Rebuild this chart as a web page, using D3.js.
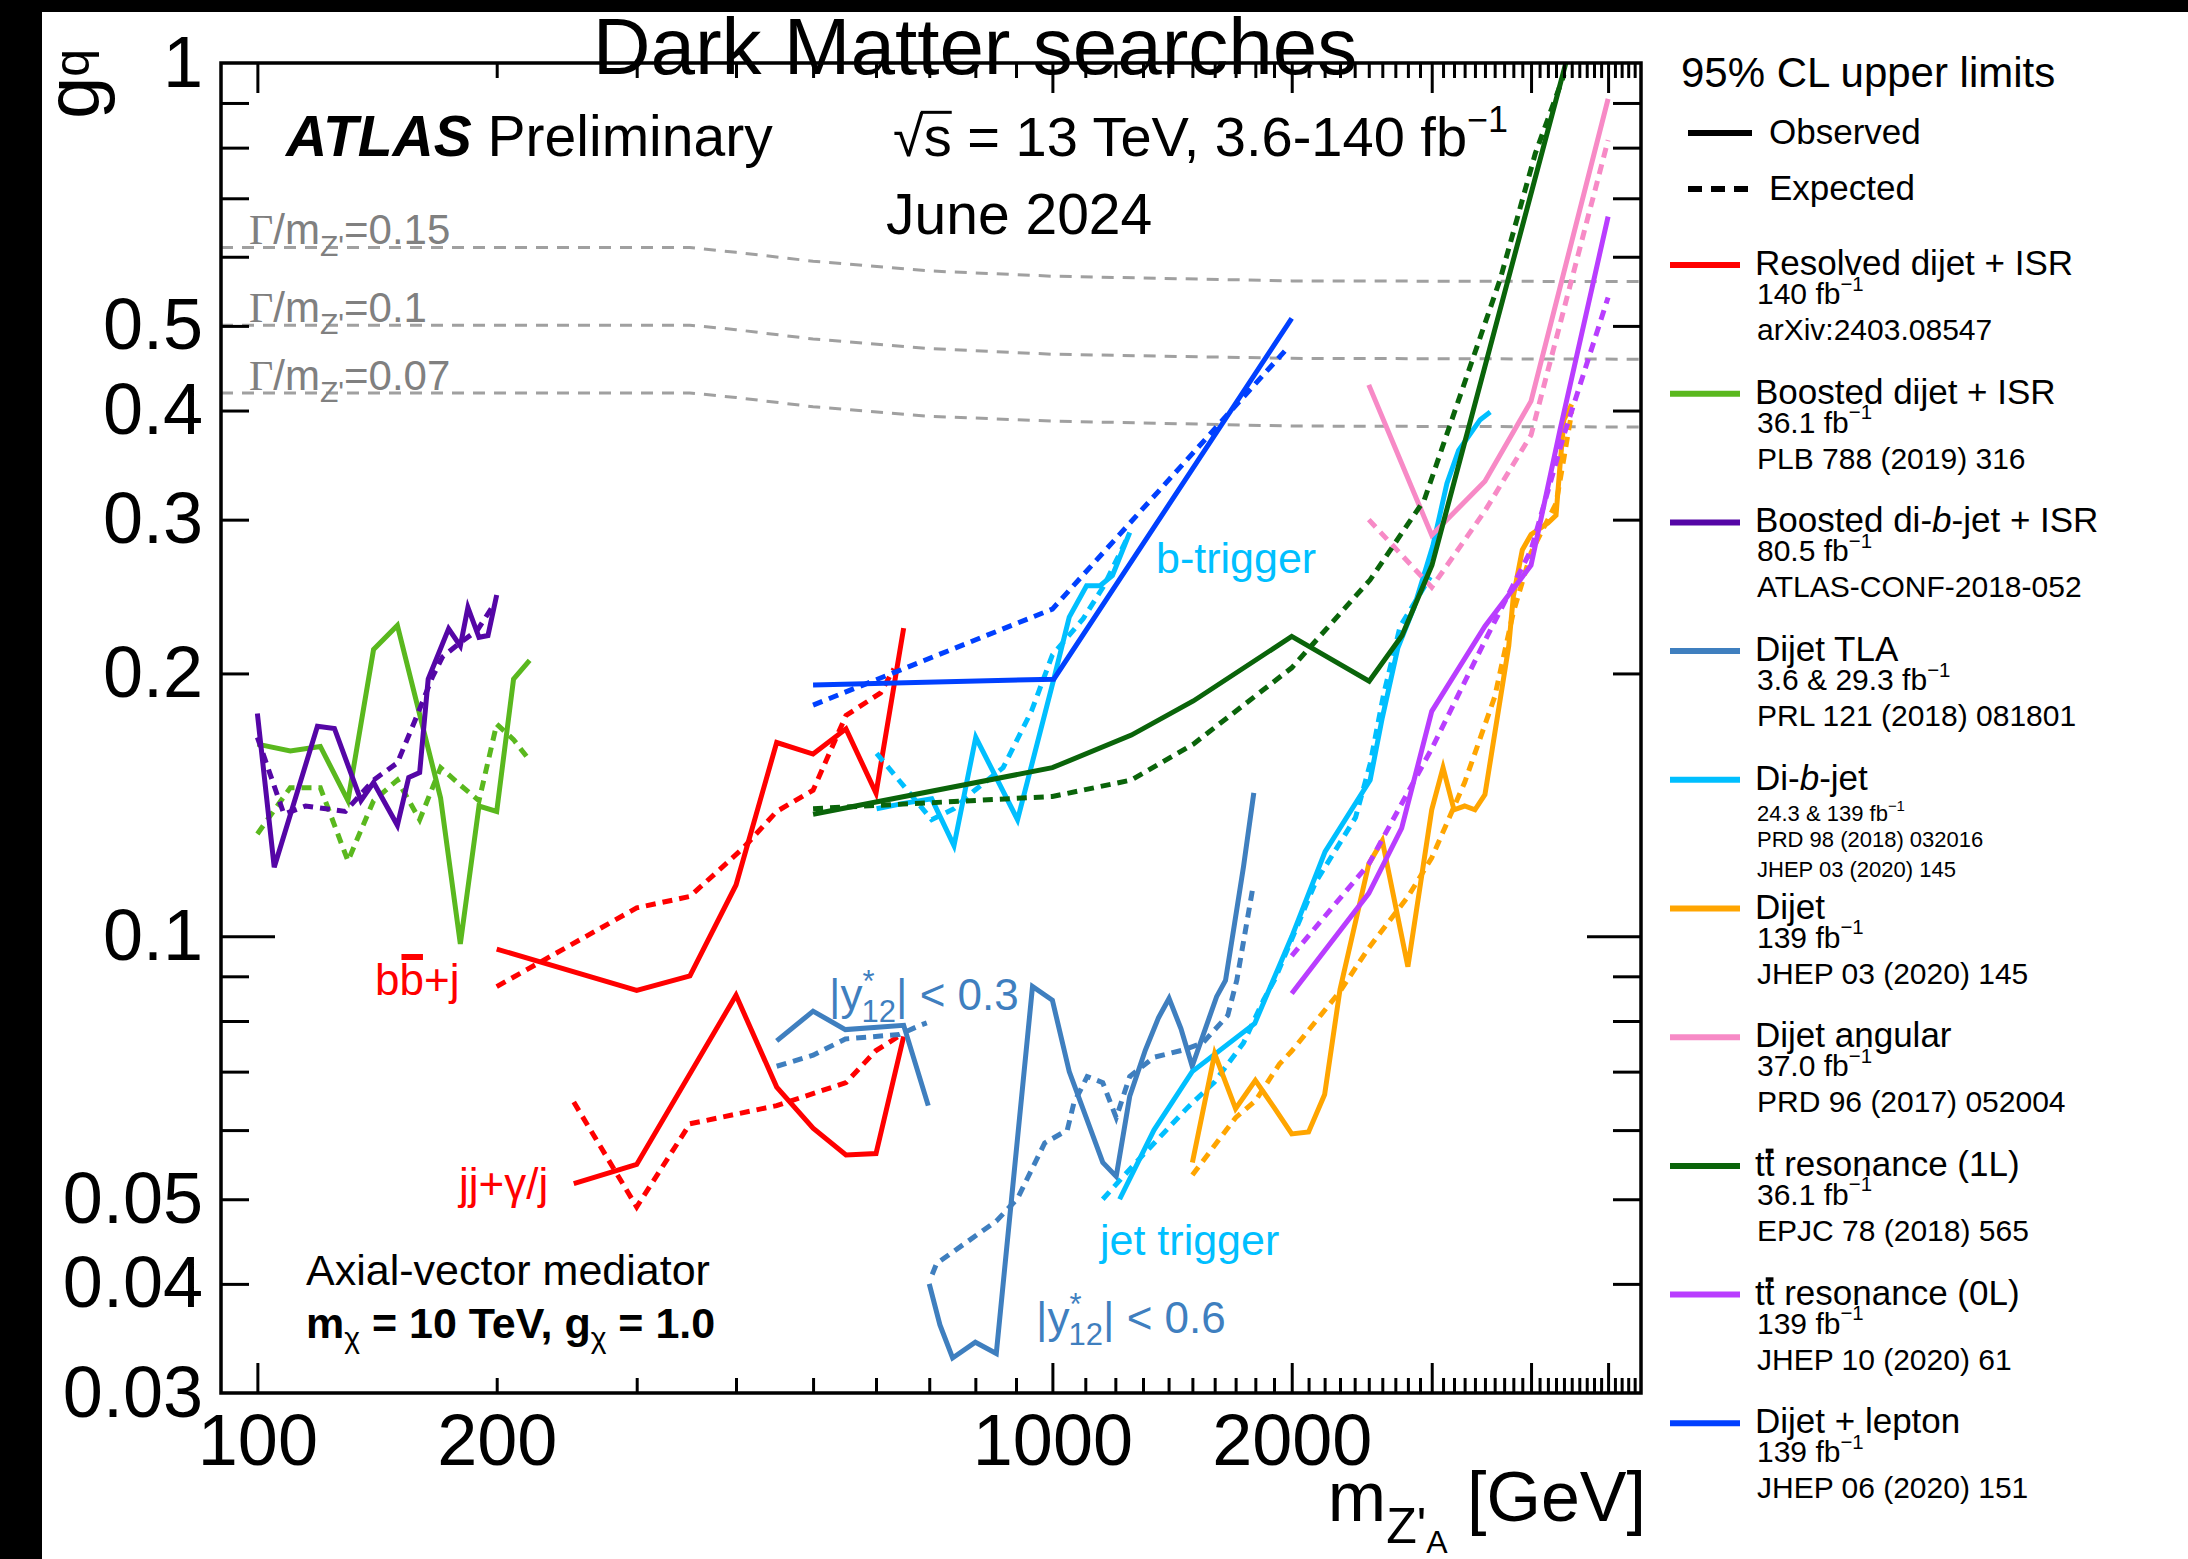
<!DOCTYPE html>
<html>
<head>
<meta charset="utf-8">
<title>Dark Matter searches</title>
<script src="https://cdn.jsdelivr.net/npm/d3@7/dist/d3.min.js"></script>
<style>
  html, body { margin: 0; padding: 0; background: #fff; }
  svg { display: block; }
  text { font-family: "Liberation Sans", Arial, Helvetica, sans-serif; }
</style>
</head>
<body>
<svg id="chart" width="2188" height="1559"></svg>
<script>
// ---------- 95% CL upper limits on g_q, points are [m_Z'A (GeV), g_q] ----------

// Resolved dijet + ISR, b-tagged (bb+j)
const resolvedBBObs = [[200,0.0967],[300,0.0867],[350,0.0901],[400,0.1145],[450,0.1667],[500,0.1617],[550,0.1728],[600,0.1459],[650,0.2254]];
const resolvedBBExp = [[200,0.0876],[300,0.1078],[350,0.1111],[408,0.1261],[450,0.139],[500,0.147],[550,0.179],[608,0.190],[632,0.2025]];
// Resolved dijet + ISR, photon / jet trigger (jj+gamma/j)
const resolvedJJObs = [[250,0.0521],[300,0.0548],[400,0.0856],[450,0.0672],[500,0.0603],[550,0.0562],[600,0.0564],[650,0.0768]];
const resolvedJJExp = [[250,0.0646],[300,0.049],[350,0.061],[450,0.064],[550,0.068],[600,0.074],[646,0.0772]];

// Boosted dijet + ISR
const boostedDijetObs = [[100,0.166],[110,0.163],[120,0.165],[130,0.143],[140,0.213],[150,0.227],[170,0.144],[180,0.098],[190,0.141],[200,0.139],[210,0.197],[220,0.207]];
const boostedDijetExp = [[100,0.131],[110,0.148],[120,0.148],[130,0.122],[140,0.143],[150,0.151],[160,0.136],[170,0.156],[180,0.149],[190,0.143],[200,0.175],[210,0.168],[220,0.159]];

// Boosted di-b-jet + ISR
const boostedDiBObs = [[100,0.180],[105,0.120],[119,0.174],[125,0.173],[135,0.143],[140,0.150],[150,0.134],[155,0.152],[160,0.154],[164,0.197],[174,0.225],[180,0.215],[184,0.238],[190,0.220],[195,0.221],[200,0.246]];
const boostedDiBExp = [[100,0.169],[108,0.138],[115,0.141],[129,0.139],[140,0.151],[150,0.158],[158,0.177],[166,0.198],[171,0.209],[180,0.217],[189,0.224],[199,0.241]];

// Dijet TLA, |y*12| < 0.3
const tlaNarrowObs = [[450,0.0759],[500,0.0821],[549,0.0782],[650,0.0791],[698,0.064]];
const tlaNarrowExp = [[450,0.071],[500,0.0731],[549,0.0763],[642,0.0772],[682,0.0791],[695,0.0796]];
// Dijet TLA, |y*12| < 0.6
const tlaWideObs = [[700,0.040],[722,0.0359],[749,0.0329],[800,0.0343],[850,0.0333],[944,0.0876],[1000,0.0845],[1050,0.070],[1157,0.0551],[1203,0.0531],[1251,0.0656],[1309,0.0741],[1360,0.0807],[1402,0.0849],[1451,0.0784],[1499,0.071],[1609,0.0853],[1651,0.089],[1695,0.1035],[1739,0.120],[1792,0.146]];
const tlaWideExp = [[706,0.041],[715,0.0422],[850,0.0472],[904,0.0501],[978,0.058],[1044,0.060],[1064,0.0644],[1106,0.0691],[1157,0.068],[1203,0.062],[1251,0.0691],[1342,0.0727],[1460,0.0741],[1546,0.0755],[1662,0.0812],[1706,0.0891],[1785,0.113]];

// Di-b-jet, b-trigger
const diBjetBObs = [[601,0.140],[650,0.142],[705,0.1437],[752,0.127],[801,0.169],[904,0.136],[1004,0.197],[1050,0.232],[1104,0.252],[1148,0.252],[1190,0.259],[1251,0.290]];
const diBjetBExp = [[601,0.162],[705,0.136],[752,0.140],[799,0.147],[867,0.156],[941,0.181],[1000,0.210],[1093,0.231],[1161,0.252],[1245,0.287]];
// Di-b-jet, jet trigger
const diBjetJObs = [[1215,0.050],[1342,0.060],[1499,0.070],[1797,0.0795],[2001,0.100],[2203,0.125],[2510,0.151],[2600,0.178],[2720,0.214],[2850,0.238],[3010,0.280],[3135,0.330],[3243,0.360],[3452,0.3905],[3554,0.3985]];
const diBjetJExp = [[1157,0.050],[1267,0.0548],[1480,0.0637],[1599,0.0681],[1739,0.0755],[1843,0.0845],[1908,0.0896],[2142,0.1152],[2406,0.1368],[2510,0.1576],[2609,0.189],[2738,0.2265],[2988,0.258]];

// Dijet
const dijetObs = [[1500,0.0551],[1600,0.0734],[1700,0.0635],[1800,0.0684],[1900,0.0637],[2000,0.0594],[2100,0.0597],[2200,0.0659],[2300,0.0869],[2500,0.121],[2600,0.1287],[2800,0.0923],[3000,0.1396],[3100,0.156],[3200,0.1396],[3300,0.141],[3400,0.1396],[3500,0.1453],[3750,0.215],[3800,0.245],[3900,0.277],[4000,0.2885],[4200,0.2973],[4300,0.3034],[4350,0.346],[4400,0.3905],[4500,0.4066]];
const dijetExp = [[1500,0.0533],[1700,0.062],[1800,0.0648],[1930,0.0714],[2000,0.0739],[2300,0.0865],[2500,0.097],[2800,0.111],[3000,0.123],[3300,0.150],[3600,0.188],[3800,0.235],[4000,0.275],[4300,0.313],[4400,0.353],[4500,0.3985]];

// Dijet angular
const angularObs = [[2500,0.428],[3000,0.288],[3500,0.332],[4000,0.410],[5000,0.91]];
const angularExp = [[2500,0.300],[3000,0.251],[3500,0.307],[4000,0.375],[5000,0.816]];

// ttbar resonance (1L)
const ttbar1LObs = [[500,0.138],[1000,0.156],[1257,0.170],[1504,0.186],[2000,0.2205],[2503,0.196],[2753,0.221],[3002,0.266],[4424,1.0]];
const ttbar1LExp = [[500,0.140],[1000,0.1446],[1257,0.151],[1504,0.166],[2000,0.203],[2510,0.256],[2936,0.316],[3659,0.566],[4050,0.788],[4402,0.97]];

// ttbar resonance (0L)
const ttbar0LObs = [[2000,0.086],[2500,0.112],[2750,0.133],[3000,0.181],[3500,0.2265],[3800,0.250],[4000,0.266],[4350,0.38],[5000,0.667]];
const ttbar0LExp = [[2000,0.095],[2500,0.121],[3000,0.164],[3500,0.218],[4000,0.277],[4400,0.375],[5000,0.539]];

// Dijet + lepton
const lepObs = [[500,0.194],[1004,0.197],[2000,0.510]];
const lepExp = [[500,0.184],[1000,0.237],[1969,0.470]];

// Coupling giving a fixed mediator width Gamma/m_Z'
const widthLabels = ["0.15", "0.1", "0.07"];
const width015 = [[90,0.615],[350,0.615],[400,0.607],[500,0.593],[700,0.578],[1000,0.570],[2000,0.563],[5500,0.562]];
const width010 = [[90,0.501],[350,0.501],[400,0.495],[500,0.483],[700,0.471],[1000,0.464],[2000,0.459],[5500,0.458]];
const width007 = [[90,0.419],[350,0.419],[400,0.414],[500,0.404],[700,0.394],[1000,0.389],[2000,0.384],[5500,0.383]];

// Axis labels
const xTickLabels = [100, 200, 1000, 2000];
const yTickLabels = [0.03, 0.04, 0.05, 0.1, 0.2, 0.3, 0.4, 0.5, 1];

// Legend text ({..} italic, [..] overlined)
const legendNames = ["Resolved dijet + ISR", "Boosted dijet + ISR", "Boosted di-{b}-jet + ISR", "Dijet TLA", "Di-{b}-jet",
  "Dijet", "Dijet angular", "t[t] resonance (1L)", "t[t] resonance (0L)", "Dijet + lepton"];
const legendLumis = ["140", "36.1", "80.5", "3.6 & 29.3", "24.3 & 139", "139", "37.0", "36.1", "139", "139"];
const legendRefs = ["arXiv:2403.08547", "PLB 788 (2019) 316", "ATLAS-CONF-2018-052", "PRL 121 (2018) 081801",
  ["PRD 98 (2018) 032016", "JHEP 03 (2020) 145"], "JHEP 03 (2020) 145", "PRD 96 (2017) 052004",
  "EPJC 78 (2018) 565", "JHEP 10 (2020) 61", "JHEP 06 (2020) 151"];

// ---------- Styles ----------
const palette = {
  resolved: "#ff0000", boosted: "#5ab81e", boostedB: "#5506a6", tla: "#3f7fbf", diB: "#00bfff",
  dijet: "#ffa500", angular: "#f78ac6", tt1L: "#0a640a", tt0L: "#b93dff", lep: "#0040ff"
};
const legendColors = [palette.resolved, palette.boosted, palette.boostedB, palette.tla, palette.diB,
  palette.dijet, palette.angular, palette.tt1L, palette.tt0L, palette.lep];

const curves = [
  [resolvedBBObs, resolvedBBExp, palette.resolved],
  [resolvedJJObs, resolvedJJExp, palette.resolved],
  [boostedDijetObs, boostedDijetExp, palette.boosted],
  [boostedDiBObs, boostedDiBExp, palette.boostedB],
  [tlaNarrowObs, tlaNarrowExp, palette.tla],
  [tlaWideObs, tlaWideExp, palette.tla],
  [diBjetBObs, diBjetBExp, palette.diB],
  [diBjetJObs, diBjetJExp, palette.diB],
  [dijetObs, dijetExp, palette.dijet],
  [angularObs, angularExp, palette.angular],
  [ttbar1LObs, ttbar1LExp, palette.tt1L],
  [ttbar0LObs, ttbar0LExp, palette.tt0L],
  [lepObs, lepExp, palette.lep]
];

// ---------- Layout ----------
const W = 2188, H = 1559;
const frame = { left: 221, right: 1641, top: 63, bottom: 1393 };
const x = d3.scaleLog().domain([90, 5500]).range([frame.left, frame.right]);
const y = d3.scaleLog().domain([0.03, 1]).range([frame.bottom, frame.top]);
const line = d3.line().x(d => x(d[0])).y(d => y(d[1]));

const svg = d3.select("#chart");
svg.append("rect").attr("width", W).attr("height", H).attr("fill", "#fff");
svg.append("rect").attr("x", 0).attr("y", 0).attr("width", 42).attr("height", H).attr("fill", "#000");
svg.append("rect").attr("x", 0).attr("y", 0).attr("width", W).attr("height", 12).attr("fill", "#000");

svg.append("defs").append("clipPath").attr("id", "plotClip")
  .append("rect").attr("x", frame.left).attr("y", frame.top)
  .attr("width", frame.right - frame.left).attr("height", frame.bottom - frame.top);

const plot = svg.append("g").attr("clip-path", "url(#plotClip)");

// width contours
[width015, width010, width007].forEach((pts, i) => {
  plot.append("path").datum(pts).attr("d", line)
    .attr("fill", "none").attr("stroke", "#a0a0a0").attr("stroke-width", 3)
    .attr("stroke-dasharray", "12,9");
  const t = svg.append("text").attr("x", 249).attr("y", y(pts[0][1]) - 3)
    .attr("font-size", 42).attr("fill", "#808080");
  t.append("tspan").style("font-family", "'Liberation Serif', 'Times New Roman', serif").text("\u0393");
  t.append("tspan").text("/m");
  t.append("tspan").attr("font-size", 30).attr("dy", 12).text("Z'");
  t.append("tspan").attr("dy", -12).text("=" + widthLabels[i]);
});

// limit curves
curves.forEach(([obs, exp, color]) => {
  plot.append("path").datum(exp).attr("d", line)
    .attr("fill", "none").attr("stroke", color).attr("stroke-width", 5)
    .attr("stroke-dasharray", "10,7");
  plot.append("path").datum(obs).attr("d", line)
    .attr("fill", "none").attr("stroke", color).attr("stroke-width", 5)
    .attr("stroke-linejoin", "miter");
});

// ---------- Axes (ticks inside the frame) ----------
const xMinor = d3.range(200, 1000, 100).concat(d3.range(1100, 5500, 100).filter(v => v % 1000 !== 0));
const xMajor = [100, 1000, 2000, 3000, 4000, 5000];
const yMinor = [0.04, 0.05, 0.06, 0.07, 0.08, 0.09, 0.2, 0.3, 0.4, 0.5, 0.6, 0.7, 0.8, 0.9];
const yMajor = [0.1];

function tickAxis(axis, tx, ty) {
  const g = svg.append("g").attr("transform", `translate(${tx},${ty})`).call(axis.tickFormat(""));
  g.select(".domain").remove();
  g.selectAll(".tick line").attr("stroke", "#000").attr("stroke-width", 3);
  return g;
}
tickAxis(d3.axisBottom(x).tickValues(xMinor).tickSize(-15), 0, frame.bottom);
tickAxis(d3.axisBottom(x).tickValues(xMajor).tickSize(-30), 0, frame.bottom);
tickAxis(d3.axisTop(x).tickValues(xMinor).tickSize(-15), 0, frame.top);
tickAxis(d3.axisTop(x).tickValues(xMajor).tickSize(-30), 0, frame.top);
tickAxis(d3.axisLeft(y).tickValues(yMinor).tickSize(-28), frame.left, 0);
tickAxis(d3.axisLeft(y).tickValues(yMajor).tickSize(-54), frame.left, 0);
tickAxis(d3.axisRight(y).tickValues(yMinor).tickSize(-28), frame.right, 0);
tickAxis(d3.axisRight(y).tickValues(yMajor).tickSize(-54), frame.right, 0);

const xLab = svg.append("g").attr("transform", `translate(0,${frame.bottom})`)
  .call(d3.axisBottom(x).tickValues(xTickLabels).tickSize(0).tickPadding(21).tickFormat(d3.format("d")));
xLab.select(".domain").remove();
xLab.attr("font-size", 72).selectAll("text").attr("fill", "#000");

const yLab = svg.append("g").attr("transform", `translate(${frame.left},0)`)
  .call(d3.axisLeft(y).tickValues(yTickLabels).tickSize(0).tickPadding(18).tickFormat(d => String(d)));
yLab.select(".domain").remove();
yLab.attr("font-size", 72).selectAll("text").attr("fill", "#000");

svg.append("rect").attr("x", frame.left).attr("y", frame.top)
  .attr("width", frame.right - frame.left).attr("height", frame.bottom - frame.top)
  .attr("fill", "none").attr("stroke", "#000").attr("stroke-width", 3.5);

// axis titles
const xt = svg.append("text").attr("x", 1646).attr("y", 1521).attr("text-anchor", "end").attr("font-size", 70);
xt.append("tspan").text("m");
xt.append("tspan").attr("font-size", 50).attr("dy", 22).text("Z'");
xt.append("tspan").attr("font-size", 32).attr("dy", 10).text("A");
xt.append("tspan").attr("dy", -32).text(" [GeV]");

const yt = svg.append("text").attr("transform", "translate(99,49) rotate(-90)")
  .attr("text-anchor", "end").attr("font-size", 76);
yt.append("tspan").text("g");
yt.append("tspan").attr("font-size", 50).attr("dy", -10).text("q");

// ---------- Header texts ----------
svg.append("text").attr("x", 975).attr("y", 74).attr("text-anchor", "middle")
  .attr("font-size", 80).text("Dark Matter searches");

const atl = svg.append("text").attr("x", 286).attr("y", 156).attr("font-size", 57);
atl.append("tspan").attr("font-weight", "bold").attr("font-style", "italic").text("ATLAS");
atl.append("tspan").text(" Preliminary");

const ecm = svg.append("text").attr("x", 893).attr("y", 156).attr("font-size", 56);
ecm.append("tspan").text("\u221As = 13 TeV, 3.6-140 fb");
ecm.append("tspan").attr("font-size", 36).attr("dy", -24).text("\u22121");
{
  const n = ecm.node();
  const r = n.getExtentOfChar(0), s = n.getExtentOfChar(1);
  svg.append("line").attr("x1", r.x + r.width - 3).attr("x2", s.x + s.width)
    .attr("y1", 156 - 56 * 0.78).attr("y2", 156 - 56 * 0.78)
    .attr("stroke", "#000").attr("stroke-width", 3);
}
svg.append("text").attr("x", 886).attr("y", 234).attr("font-size", 57).text("June 2024");

svg.append("text").attr("x", 306).attr("y", 1285).attr("font-size", 43).text("Axial-vector mediator");
const mchi = svg.append("text").attr("x", 306).attr("y", 1338).attr("font-size", 43).attr("font-weight", "bold");
mchi.append("tspan").text("m");
mchi.append("tspan").attr("font-size", 30).attr("font-weight", "normal").attr("dy", 10).text("\u03C7");
mchi.append("tspan").attr("dy", -10).text(" = 10 TeV, g");
mchi.append("tspan").attr("font-size", 30).attr("font-weight", "normal").attr("dy", 10).text("\u03C7");
mchi.append("tspan").attr("dy", -10).text(" = 1.0");

// ---------- Curve annotations ----------
const bb = svg.append("text").attr("x", 375).attr("y", 995).attr("font-size", 44).attr("fill", palette.resolved).text("bb+j");
{
  const e = bb.node().getExtentOfChar(1);
  svg.append("rect").attr("x", e.x + 2).attr("width", e.width - 3).attr("y", 995 - 41).attr("height", 6).attr("fill", palette.resolved);
}
svg.append("text").attr("x", 459).attr("y", 1199).attr("font-size", 44).attr("fill", palette.resolved).text("jj+\u03B3/j");

function rapidityLabel(px, py, tail) {
  const t = svg.append("text").attr("x", px).attr("y", py).attr("font-size", 44).attr("fill", palette.tla);
  t.append("tspan").text("|y");
  t.append("tspan").attr("font-size", 31).attr("dy", -18).text("*");
  t.append("tspan").attr("font-size", 31).attr("dx", -13).attr("dy", 30).text("12");
  t.append("tspan").attr("dy", -12).text("| < " + tail);
}
rapidityLabel(829, 1010, "0.3");
rapidityLabel(1036, 1333, "0.6");

svg.append("text").attr("x", 1156).attr("y", 573).attr("font-size", 43).attr("fill", palette.diB).text("b-trigger");
svg.append("text").attr("x", 1100).attr("y", 1255).attr("font-size", 43).attr("fill", palette.diB).text("jet trigger");

// ---------- Legend ----------
svg.append("text").attr("x", 1681).attr("y", 87).attr("font-size", 42).text("95% CL upper limits");
svg.append("line").attr("x1", 1688).attr("x2", 1752).attr("y1", 133).attr("y2", 133)
  .attr("stroke", "#000").attr("stroke-width", 6);
svg.append("text").attr("x", 1769).attr("y", 144).attr("font-size", 35).text("Observed");
svg.append("line").attr("x1", 1688).attr("x2", 1752).attr("y1", 189).attr("y2", 189)
  .attr("stroke", "#000").attr("stroke-width", 6).attr("stroke-dasharray", "14,9");
svg.append("text").attr("x", 1769).attr("y", 200).attr("font-size", 35).text("Expected");

function richText(px, py, src, size) {
  const t = svg.append("text").attr("x", px).attr("y", py).attr("font-size", size);
  const parts = src.split(/(\{[^}]*\}|\[[^\]]*\])/).filter(s => s.length);
  let idx = 0;
  const bars = [];
  parts.forEach(p => {
    if (p[0] === "{") {
      t.append("tspan").attr("font-style", "italic").text(p.slice(1, -1));
      idx += p.length - 2;
    } else if (p[0] === "[") {
      bars.push([idx, p.length - 2]);
      t.append("tspan").text(p.slice(1, -1));
      idx += p.length - 2;
    } else {
      t.append("tspan").text(p);
      idx += p.length;
    }
  });
  bars.forEach(([i, n]) => {
    const a = t.node().getExtentOfChar(i), b = t.node().getExtentOfChar(i + n - 1);
    svg.append("rect").attr("x", a.x + 1).attr("width", b.x + b.width - a.x - 2)
      .attr("y", py - size * 0.78).attr("height", size * 0.13).attr("fill", "#000");
  });
  return t;
}

function lumiText(px, py, lumi, size) {
  const t = svg.append("text").attr("x", px).attr("y", py).attr("font-size", size);
  t.append("tspan").text(lumi + " fb");
  t.append("tspan").attr("font-size", size * 0.68).attr("dy", -size * 0.45).text("\u22121");
}

legendNames.forEach((name, i) => {
  const ly = 265 + i * 128.7;
  svg.append("line").attr("x1", 1670).attr("x2", 1740).attr("y1", ly).attr("y2", ly)
    .attr("stroke", legendColors[i]).attr("stroke-width", 6);
  richText(1755, ly + 10, name, 35);
  const ref = legendRefs[i];
  if (Array.isArray(ref)) {
    lumiText(1757, ly + 41, legendLumis[i], 22);
    svg.append("text").attr("x", 1757).attr("y", ly + 67).attr("font-size", 22).text(ref[0]);
    svg.append("text").attr("x", 1757).attr("y", ly + 97).attr("font-size", 22).text(ref[1]);
  } else {
    lumiText(1757, ly + 39, legendLumis[i], 30);
    svg.append("text").attr("x", 1757).attr("y", ly + 75).attr("font-size", 30).text(ref);
  }
});
</script>
</body>
</html>
